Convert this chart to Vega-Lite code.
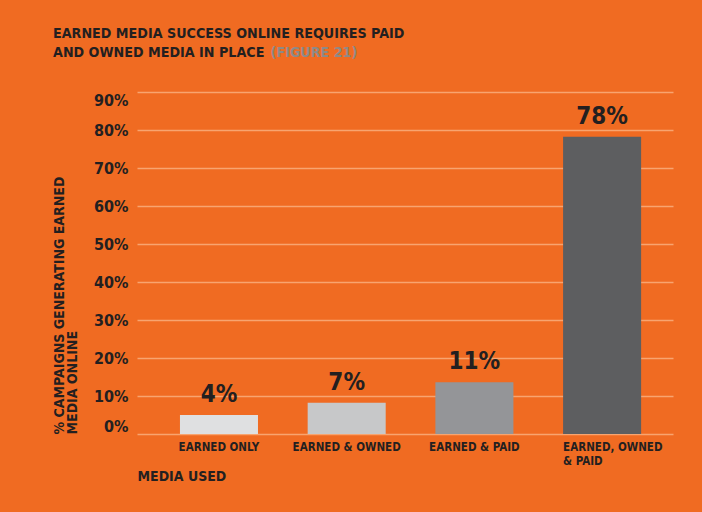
{
  "$schema": "https://vega.github.io/schema/vega-lite/v6.json",
  "autosize": "none",
  "width": 536,
  "height": 342,
  "padding": {"left": 137, "top": 92, "right": 29, "bottom": 78},
  "background": "#f06b22",
  "title": {
    "text": ["EARNED MEDIA SUCCESS ONLINE REQUIRES PAID", "AND OWNED MEDIA IN PLACE"],
    "subtitle": "\u200b\u00a0\u00a0\u00a0\u00a0\u00a0\u00a0\u00a0\u00a0\u00a0\u00a0\u00a0\u00a0\u00a0\u00a0\u00a0\u00a0\u00a0\u00a0\u00a0\u00a0\u00a0\u00a0\u00a0\u00a0\u00a0\u00a0\u00a0\u00a0\u00a0\u00a0\u00a0\u00a0\u00a0\u00a0\u00a0\u00a0\u00a0\u00a0\u00a0\u00a0\u00a0\u00a0\u00a0\u00a0\u00a0\u00a0\u00a0\u00a0\u00a0(FIGURE 21)",
    "anchor": "start",
    "frame": "group",
    "dx": -84,
    "offset": 32,
    "font": "DejaVu Sans Condensed",
    "fontSize": 14.2,
    "fontWeight": "bold",
    "color": "#231f20",
    "lineHeight": 19,
    "subtitleFont": "DejaVu Sans Condensed",
    "subtitleFontSize": 14.2,
    "subtitleFontWeight": "bold",
    "subtitleColor": "#8d8a88",
    "subtitlePadding": -14
  },
  "data": {
    "values": [
      {"media": "EARNED ONLY", "share": 5.0, "label": "4%"},
      {"media": "EARNED & OWNED", "share": 8.2, "label": "7%"},
      {"media": "EARNED & PAID", "share": 13.6, "label": "11%"},
      {"media": "EARNED, OWNED & PAID", "share": 78.2, "label": "78%"}
    ]
  },
  "encoding": {
    "x": {
      "field": "media",
      "type": "nominal",
      "sort": null,
      "scale": {"paddingInner": 0.389, "paddingOuter": 0.293, "align": 0.574},
      "axis": {
        "title": "MEDIA USED",
        "titleAnchor": "start",
        "titleAlign": "left",
        "titleFont": "DejaVu Sans Condensed",
        "titleFontSize": 14,
        "titleFontWeight": "bold",
        "titleColor": "#231f20",
        "titlePadding": 3,
        "labelAngle": 0,
        "labelFont": "DejaVu Sans Condensed",
        "labelFontSize": 11.5,
        "labelFontWeight": "bold",
        "labelColor": "#231f20",
        "labelPadding": 7,
        "labelBaseline": "top",
        "labelLineHeight": 14,
        "labelExpr": "datum.label == 'EARNED, OWNED & PAID' ? ['EARNED, OWNED', '& PAID'] : datum.label",
        "labelAlign": {"condition": {"test": "datum.label == 'EARNED, OWNED & PAID'", "value": "left"}, "value": "center"},
        "labelOffset": {"condition": {"test": "datum.label == 'EARNED, OWNED & PAID'", "value": -39}, "value": 0},
        "domain": false,
        "ticks": false,
        "tickSize": 0,
        "grid": false
      }
    },
    "y": {
      "field": "share",
      "type": "quantitative",
      "scale": {"domain": [0, 90], "nice": false},
      "axis": {
        "title": ["% CAMPAIGNS GENERATING EARNED", "MEDIA ONLINE"],
        "titleAnchor": "start",
        "titleAlign": "left",
        "titleFont": "DejaVu Sans Condensed",
        "titleFontSize": 14,
        "titleFontWeight": "bold",
        "titleColor": "#231f20",
        "titleLineHeight": 13,
        "titlePadding": 14,
        "values": [0, 10, 20, 30, 40, 50, 60, 70, 80, 90],
        "labelExpr": "datum.value + '%'",
        "labelFont": "DejaVu Sans Condensed",
        "labelFontSize": 16,
        "labelFontWeight": "bold",
        "labelColor": "#231f20",
        "labelPadding": 9,
        "labelFlush": true,
        "domain": false,
        "ticks": false,
        "tickSize": 0,
        "grid": true,
        "gridColor": "#f8a46f",
        "gridWidth": 1.5
      }
    }
  },
  "layer": [
    {
      "mark": {"type": "bar"},
      "encoding": {
        "color": {
          "field": "media",
          "type": "nominal",
          "sort": null,
          "scale": {
            "domain": ["EARNED ONLY", "EARNED & OWNED", "EARNED & PAID", "EARNED, OWNED & PAID"],
            "range": ["#dfe0e1", "#c7c8c9", "#949598", "#5d5e60"]
          },
          "legend": null
        }
      }
    },
    {
      "mark": {
        "type": "text",
        "baseline": "alphabetic",
        "dy": -13,
        "font": "DejaVu Sans Condensed",
        "fontSize": 24,
        "fontWeight": "bold",
        "color": "#231f20"
      },
      "encoding": {"text": {"field": "label"}}
    }
  ],
  "config": {"view": {"stroke": null}}
}
